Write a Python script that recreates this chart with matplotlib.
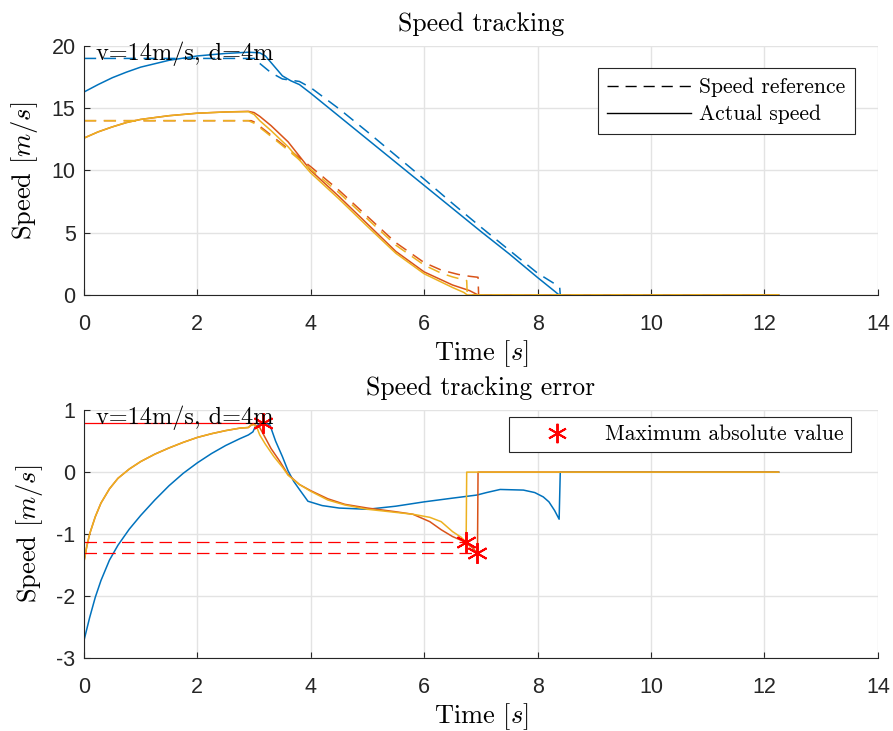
import numpy as np
import matplotlib
matplotlib.use("Agg")
import matplotlib.pyplot as plt
from matplotlib.lines import Line2D

plt.rcParams['mathtext.fontset'] = 'cm'
plt.rcParams['axes.unicode_minus'] = False
plt.rcParams['font.family'] = ['Liberation Sans', 'DejaVu Sans']

BLUE = '#0072BD'
ORANGE = '#D95319'
YELLOW = '#EDB120'
TXT = 'cmr10'

# ---- speed tracking (top) ----
t_blue_ref = [0, 3.05, 3.1, 3.3, 3.5, 3.8, 4.0, 4.5, 5.0, 5.5, 6.0, 6.5, 7.0, 7.5, 8.0, 8.3, 8.39, 8.4, 12.25]
v_blue_ref = [19, 19, 18.6, 17.85, 17.35, 17.15, 16.65, 14.95, 13.1, 11.2, 9.3, 7.35, 5.45, 3.6, 1.75, 0.9, 0.6, 0, 0]
t_blue_act = [0, 0.25, 0.5, 0.75, 1.0, 1.5, 2.0, 2.5, 2.9, 3.1, 3.2, 3.35, 3.5, 3.65, 3.8, 4.0, 4.5, 5.0, 5.5,
              6.0, 6.5, 7.0, 7.5, 8.0, 8.3, 8.38, 12.25]
v_blue_act = [16.3, 16.9, 17.45, 17.9, 18.3, 18.85, 19.2, 19.4, 19.5, 19.45, 19.2, 18.4, 17.6, 17.2, 16.9, 16.2,
              14.35, 12.5, 10.65, 8.8, 6.95, 5.1, 3.3, 1.4, 0.3, 0.0, 0.0]

t_red_ref = [0, 2.95, 3.0, 3.2, 3.5, 4.0, 4.5, 5.0, 5.5, 6.0, 6.3, 6.6, 6.8, 6.95, 6.96, 12.25]
v_red_ref = [14, 14, 13.9, 13.2, 12.1, 10.3, 8.4, 6.3, 4.2, 2.6, 2.0, 1.65, 1.5, 1.42, 0, 0]
t_red_act = [0, 0.25, 0.5, 0.75, 1.0, 1.5, 2.0, 2.5, 2.9, 3.0, 3.1, 3.3, 3.6, 4.0, 4.5, 5.0, 5.5, 6.0,
             6.5, 6.8, 6.95, 12.25]
v_red_act = [12.6, 13.1, 13.5, 13.85, 14.1, 14.4, 14.6, 14.7, 14.75, 14.65, 14.35, 13.6, 12.3, 10.0, 7.9,
             5.7, 3.5, 1.85, 0.8, 0.35, 0.0, 0.0]

t_yel_ref = [0, 2.9, 3.0, 3.2, 3.5, 4.0, 4.5, 5.0, 5.5, 6.0, 6.3, 6.5, 6.75, 6.76, 12.25]
v_yel_ref = [14, 14, 13.8, 13.1, 12.0, 10.1, 8.2, 6.1, 4.0, 2.4, 1.75, 1.45, 1.15, 0, 0]
t_yel_act = [0, 0.25, 0.5, 0.75, 1.0, 1.5, 2.0, 2.5, 2.9, 3.0, 3.1, 3.3, 3.6, 4.0, 4.5, 5.0, 5.5, 6.0,
             6.5, 6.7, 6.76, 12.25]
v_yel_act = [12.6, 13.1, 13.5, 13.85, 14.1, 14.4, 14.6, 14.7, 14.72, 14.5, 14.0, 13.2, 11.9, 9.8, 7.7,
             5.5, 3.35, 1.7, 0.6, 0.2, 0.0, 0.0]

# ---- speed tracking error (bottom) ----
t_blue_err = [0, 0.1, 0.2, 0.3, 0.45, 0.6, 0.8, 1.0, 1.25, 1.5, 1.75, 2.0, 2.25, 2.5, 2.75, 2.9, 2.98, 3.02,
              3.1, 3.2, 3.28, 3.38, 3.5, 3.6, 3.7, 3.8, 3.95, 4.2, 4.5, 5.0, 5.5, 6.0, 6.5, 6.93, 7.1, 7.34,
              7.75, 7.95, 8.1, 8.2, 8.3, 8.38, 8.4, 12.25]
e_blue = [-2.72, -2.35, -2.02, -1.75, -1.42, -1.18, -0.92, -0.7, -0.45, -0.22, -0.02, 0.15, 0.3, 0.43, 0.54,
          0.6, 0.65, 0.73, 0.78, 0.8, 0.76, 0.5, 0.25, 0.02, -0.15, -0.28, -0.47, -0.54, -0.58, -0.6, -0.55,
          -0.48, -0.42, -0.37, -0.33, -0.28, -0.29, -0.33, -0.4, -0.48, -0.62, -0.76, 0.0, 0.0]

t_red_err = [0, 0.05, 0.1, 0.2, 0.3, 0.45, 0.6, 0.8, 1.0, 1.25, 1.5, 1.75, 2.0, 2.25, 2.5, 2.75, 2.9, 2.95,
             3.0, 3.1, 3.2, 3.3, 3.45, 3.6, 3.8, 4.0, 4.3, 4.6, 5.0, 5.5, 5.8, 6.1, 6.3, 6.5, 6.7, 6.85, 6.94,
             6.95, 12.25]
e_red = [-1.45, -1.2, -1.0, -0.72, -0.5, -0.27, -0.1, 0.05, 0.17, 0.29, 0.39, 0.48, 0.56, 0.62, 0.67, 0.71,
         0.72, 0.76, 0.77, 0.72, 0.55, 0.38, 0.18, -0.04, -0.2, -0.3, -0.43, -0.52, -0.58, -0.64, -0.68, -0.8,
         -0.93, -1.04, -1.12, -1.22, -1.31, 0.0, 0.0]

t_yel_err = [0, 0.05, 0.1, 0.2, 0.3, 0.45, 0.6, 0.8, 1.0, 1.25, 1.5, 1.75, 2.0, 2.25, 2.5, 2.75, 2.9, 2.95,
             3.0, 3.05, 3.1, 3.2, 3.35, 3.5, 3.6, 3.8, 4.0, 4.3, 4.6, 5.0, 5.5, 5.8, 6.1, 6.3, 6.5, 6.65, 6.74,
             6.75, 12.25]
e_yel = [-1.45, -1.2, -1.0, -0.72, -0.5, -0.27, -0.1, 0.05, 0.17, 0.29, 0.39, 0.48, 0.56, 0.62, 0.67, 0.71,
         0.72, 0.76, 0.77, 0.72, 0.6, 0.45, 0.25, 0.08, -0.05, -0.2, -0.31, -0.45, -0.53, -0.6, -0.65, -0.68,
         -0.73, -0.8, -0.96, -1.05, -1.13, 0.0, 0.0]

# maximum absolute error points
t_max = [3.16, 6.74, 6.94]
e_max = [0.8, -1.13, -1.31]
max_style = ['-', '--', '--']

dash_ref = (0, (8, 5))
ASTER = (6, 2, 0)


def style_axes(ax):
    ax.grid(True, color='#E3E3E3', linewidth=1.0)
    ax.set_axisbelow(True)
    for s in ['top', 'right']:
        ax.spines[s].set_visible(False)
    for s in ['left', 'bottom']:
        ax.spines[s].set_color('#262626')
        ax.spines[s].set_linewidth(0.8)
    ax.tick_params(direction='in', length=4, width=0.8, color='#262626',
                   labelsize=15.5, labelcolor='#262626', pad=6)
    ax.tick_params(axis='x', pad=14)


fig = plt.figure(figsize=(8.93, 7.31), dpi=100)
ax1 = fig.add_axes([0.094, 0.5965, 0.889, 0.3406])
ax2 = fig.add_axes([0.094, 0.0999, 0.889, 0.339])

# top
ax1.plot(t_blue_ref, v_blue_ref, color=BLUE, lw=1.1, linestyle=dash_ref)
ax1.plot(t_blue_act, v_blue_act, color=BLUE, lw=1.1)
ax1.plot(t_red_ref, v_red_ref, color=ORANGE, lw=1.1, linestyle=dash_ref)
ax1.plot(t_red_act, v_red_act, color=ORANGE, lw=1.1)
ax1.plot(t_yel_ref, v_yel_ref, color=YELLOW, lw=1.1, linestyle=dash_ref)
ax1.plot(t_yel_act, v_yel_act, color=YELLOW, lw=1.1)
ax1.set_xlim(0, 14)
ax1.set_ylim(0, 20)
ax1.set_xticks(np.arange(0, 15, 2))
ax1.set_yticks(np.arange(0, 21, 5))
style_axes(ax1)
ax1.set_title('Speed tracking', fontname=TXT, fontsize=18.5, pad=11)
ax1.set_xlabel('Time [$s$]', fontname=TXT, fontsize=19, labelpad=2)
ax1.set_ylabel('Speed [$m/s$]', fontname=TXT, fontsize=19, labelpad=8)
ax1.text(0.22, 19.4, 'v=14m/s, d=4m', fontname=TXT, fontsize=17.5, va='center', ha='left')
h = [Line2D([], [], color='black', lw=1.0, linestyle=dash_ref),
     Line2D([], [], color='black', lw=1.0)]
leg1 = ax1.legend(h, ['Speed reference', 'Actual speed'], loc='upper right',
                  bbox_to_anchor=(0.971, 0.912), borderaxespad=0, prop={'family': TXT, 'size': 15.5},
                  fancybox=False, edgecolor='#262626', framealpha=1, handlelength=3.9,
                  handletextpad=0.35, borderpad=0.45, labelspacing=0.35)
leg1.get_frame().set_linewidth(0.8)

# bottom
ax2.plot(t_blue_err, e_blue, color=BLUE, lw=1.1)
ax2.plot(t_red_err, e_red, color=ORANGE, lw=1.1)
ax2.plot(t_yel_err, e_yel, color=YELLOW, lw=1.1)
for tm, em, ls in zip(t_max, e_max, max_style):
    ax2.plot([0, tm], [em, em], color='red', lw=0.9,
             linestyle=ls if ls == '-' else (0, (10, 5)))
ax2.plot(t_max, e_max, linestyle='none', marker=ASTER, color='red', markersize=15, markeredgewidth=1.4)
ax2.set_xlim(0, 14)
ax2.set_ylim(-3, 1)
ax2.set_xticks(np.arange(0, 15, 2))
ax2.set_yticks(np.arange(-3, 2, 1))
style_axes(ax2)
ax2.set_title('Speed tracking error', fontname=TXT, fontsize=18.5, pad=11)
ax2.set_xlabel('Time [$s$]', fontname=TXT, fontsize=19, labelpad=2)
ax2.set_ylabel('Speed [$m/s$]', fontname=TXT, fontsize=19, labelpad=8)
ax2.text(0.22, 0.88, 'v=14m/s, d=4m', fontname=TXT, fontsize=17.5, va='center', ha='left')
h2 = Line2D([], [], linestyle='none', marker=ASTER, color='red', markersize=14, markeredgewidth=1.4)
leg2 = ax2.legend([h2], ['Maximum absolute value'], loc='upper right',
                  bbox_to_anchor=(0.966, 0.972), borderaxespad=0, prop={'family': TXT, 'size': 15.5},
                  fancybox=False, edgecolor='#262626', framealpha=1, handlelength=3.8,
                  handletextpad=0.3, borderpad=0.35, numpoints=1)
leg2.get_frame().set_linewidth(0.8)

fig.savefig('out.png', dpi=100)
